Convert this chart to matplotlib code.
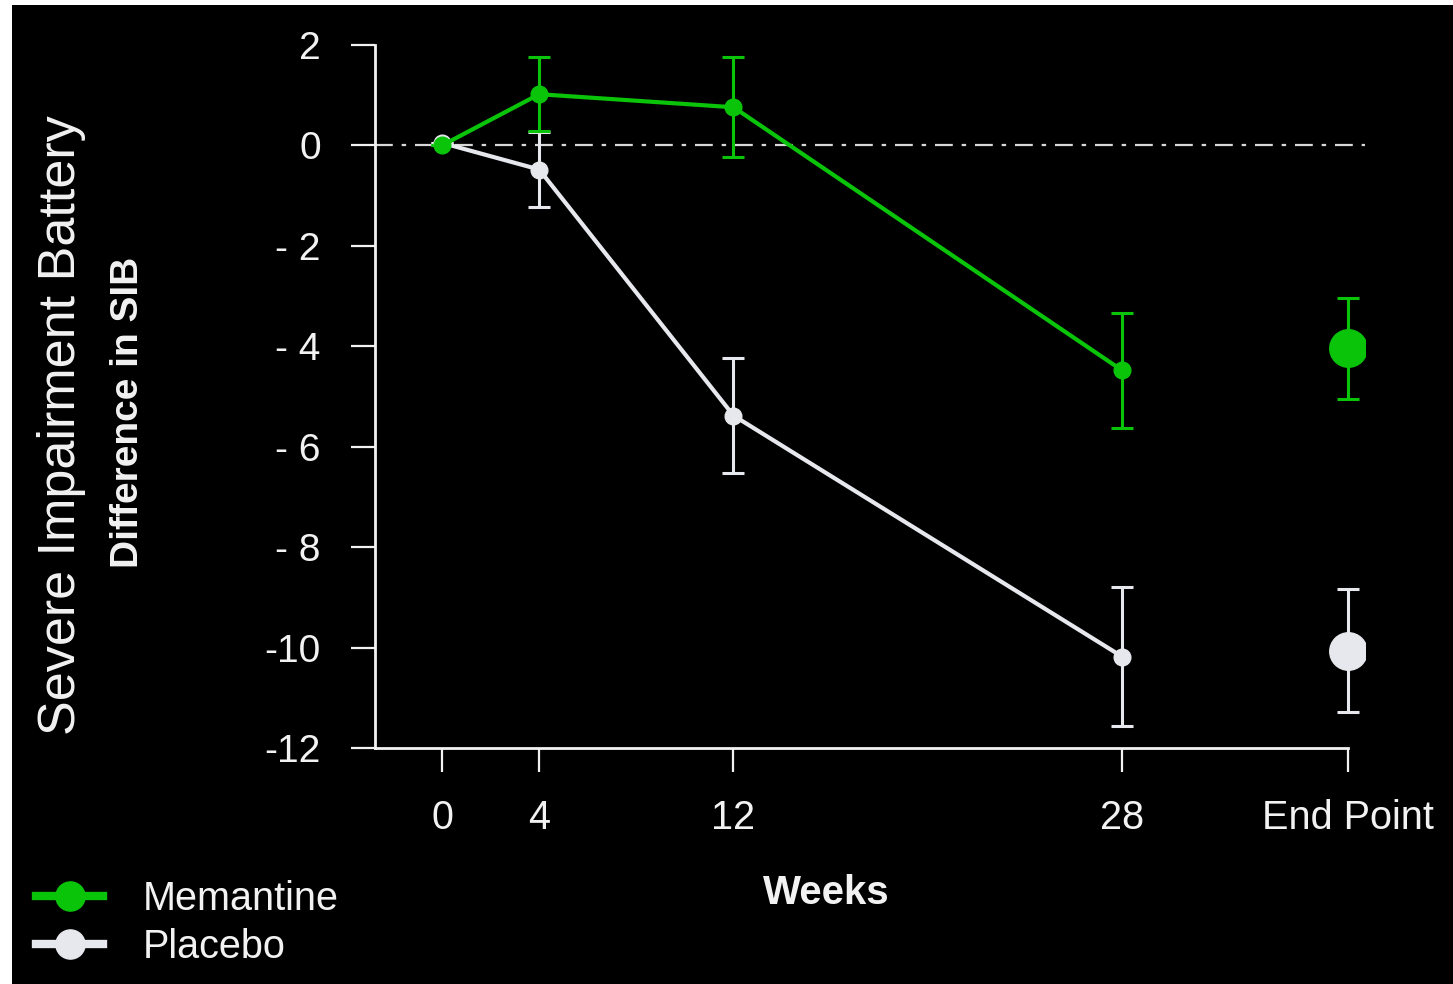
import matplotlib
matplotlib.use("Agg")
import matplotlib.pyplot as plt
from matplotlib.patches import Rectangle
from matplotlib.lines import Line2D

plt.rcParams["font.family"] = ["Liberation Sans", "DejaVu Sans"]

# data (change from baseline in SIB)
weeks = [0, 4, 12, 28]
endpoint_week = 37.3  # where the "End Point" column sits on the week scale
tick_weeks = [0, 4, 12, 28, endpoint_week]
tick_labels = ["0", "4", "12", "28", "End Point"]
y_ticks = [2, 0, -2, -4, -6, -8, -10, -12]
y_tick_labels = ["2", "0", "- 2", "- 4", "- 6", "- 8", "-10", "-12"]

mem_mean = [0.0, 1.02, 0.76, -4.48]
mem_err = [0.0, 0.74, 1.0, 1.14]
mem_end, mem_end_err = -4.04, 1.01

pla_mean = [0.05, -0.48, -5.38, -10.18]
pla_err = [0.0, 0.74, 1.14, 1.38]
pla_end, pla_end_err = -10.06, 1.22

GREEN = "#0ac40a"
WHITE = "#e6e8ee"
FG = "#f2f2f2"

fig = plt.figure(figsize=(14.53, 9.84), dpi=100, facecolor="white")
# black slide area (thin white margin left/top like the screenshot)
fig.patches.append(Rectangle((12 / 1453, 0), 1, 1 - 5 / 984, transform=fig.transFigure,
                             facecolor="black", edgecolor="none", zorder=-5))

ax = fig.add_axes([375 / 1453, 1 - 748 / 984, (1365 - 375) / 1453, (748 - 45) / 984])
ax.set_facecolor("none")
ax.set_xlim(-2.76, 38.0)
ax.set_ylim(-12, 2)

ax.axhline(0, color="#d8d8d8", lw=1.6, ls=(0, (8, 4, 2, 4)), zorder=1)

for mean, err, end, end_err, col in [(pla_mean, pla_err, pla_end, pla_end_err, WHITE),
                                     (mem_mean, mem_err, mem_end, mem_end_err, GREEN)]:
    ax.errorbar(weeks, mean, yerr=err, color=col, lw=3, marker="o", ms=12,
                elinewidth=2.2, capsize=8, capthick=2.2, zorder=3)
    ax.errorbar([endpoint_week], [end], yerr=[end_err], color=col, marker="o", ms=27,
                elinewidth=2.2, capsize=8, capthick=2.2, ls="none", zorder=3)

for s in ["top", "right"]:
    ax.spines[s].set_visible(False)
for s in ["left", "bottom"]:
    ax.spines[s].set_color(FG)
    ax.spines[s].set_linewidth(2)
ax.spines["bottom"].set_bounds(-2.76, endpoint_week)

ax.set_yticks(y_ticks)
ax.set_yticklabels(y_tick_labels)
ax.set_xticks(tick_weeks)
ax.set_xticklabels(tick_labels)
ax.tick_params(axis="y", colors=FG, length=17, width=1.6, pad=22, labelsize=28)
ax.tick_params(axis="x", colors=FG, length=17, width=1.6, pad=20, labelsize=28.5)

fig.text(826 / 1453, 1 - 893 / 984, "Weeks", color=FG, fontsize=29, fontweight="bold",
         ha="center", va="center")
fig.text(62 / 1453, 1 - 425 / 984, "Severe Impairment Battery", color=FG, fontsize=37.5,
         rotation=90, ha="center", va="center")
fig.text(128 / 1453, 1 - 412 / 984, "Difference in SIB", color=FG, fontsize=28,
         fontweight="bold", rotation=90, ha="center", va="center")

handles = [Line2D([], [], color=GREEN, lw=6, marker="o", ms=21),
           Line2D([], [], color=WHITE, lw=6, marker="o", ms=21)]
fig.legend(handles, ["Memantine", "Placebo"], loc="center left",
           bbox_to_anchor=(36 / 1453, 1 - 923 / 984), frameon=False, fontsize=28.5,
           labelcolor=FG, handlelength=1.7, handletextpad=1.0, labelspacing=0.25,
           borderpad=0, borderaxespad=0)

fig.savefig("out.png", dpi=100, facecolor="white")
